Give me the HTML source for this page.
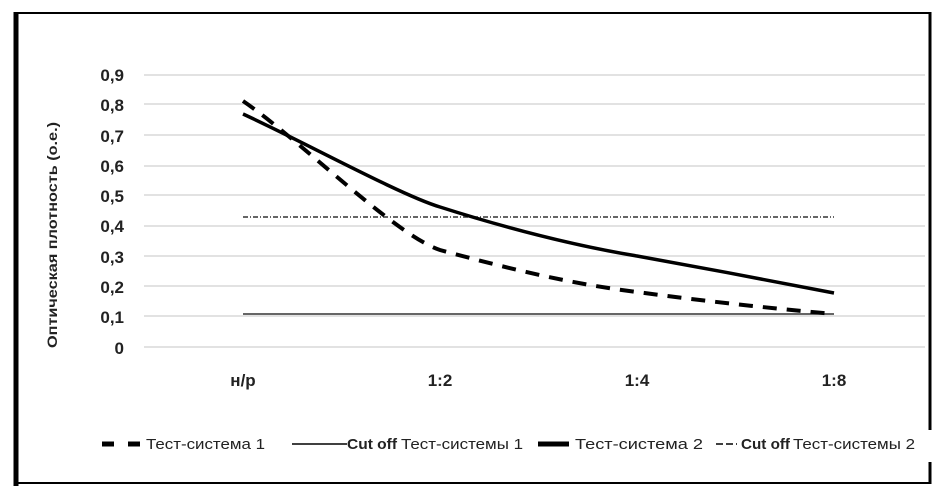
<!DOCTYPE html>
<html><head><meta charset="utf-8"><style>
body{margin:0;background:#fff;}
svg{display:block;font-family:"Liberation Sans","DejaVu Sans",sans-serif;}
</style></head><body>
<svg width="942" height="489" viewBox="0 0 942 489" xmlns="http://www.w3.org/2000/svg">
<rect width="942" height="489" fill="#fff"/>
<line x1="16" y1="12" x2="16" y2="486" stroke="#000" stroke-width="5"/>
<line x1="14" y1="13" x2="930" y2="13" stroke="#000" stroke-width="2"/>
<line x1="930" y1="12" x2="930" y2="430" stroke="#000" stroke-width="3"/>
<line x1="930" y1="462" x2="930" y2="484" stroke="#000" stroke-width="3"/>
<line x1="14" y1="483" x2="931" y2="483" stroke="#000" stroke-width="2"/>
<g stroke="#d9d9d9" stroke-width="1.5">
<line x1="144" y1="75" x2="925" y2="75"/>
<line x1="144" y1="104" x2="925" y2="104"/>
<line x1="144" y1="135" x2="925" y2="135"/>
<line x1="144" y1="166" x2="925" y2="166"/>
<line x1="144" y1="195" x2="925" y2="195"/>
<line x1="144" y1="226" x2="925" y2="226"/>
<line x1="144" y1="256" x2="925" y2="256"/>
<line x1="144" y1="286" x2="925" y2="286"/>
<line x1="144" y1="316" x2="925" y2="316"/>
<line x1="144" y1="347" x2="925" y2="347"/>
</g>
<g font-size="17" font-weight="bold" fill="#222" text-anchor="end">
<text x="124" y="81">0,9</text>
<text x="124" y="111">0,8</text>
<text x="124" y="142">0,7</text>
<text x="124" y="172">0,6</text>
<text x="124" y="202">0,5</text>
<text x="124" y="232">0,4</text>
<text x="124" y="263">0,3</text>
<text x="124" y="293">0,2</text>
<text x="124" y="323">0,1</text>
<text x="124" y="354">0</text>
</g>
<text transform="translate(57,235) rotate(-90)" font-size="14" font-weight="bold" fill="#222" text-anchor="middle" textLength="226" lengthAdjust="spacingAndGlyphs">Оптическая плотность (о.е.)</text>
<g font-size="17" font-weight="bold" fill="#222" text-anchor="middle">
<text x="243" y="386">н/р</text>
<text x="440" y="386">1:2</text>
<text x="637" y="386">1:4</text>
<text x="834" y="386">1:8</text>
</g>
<line x1="243" y1="217" x2="834" y2="217" stroke="#333" stroke-width="1.5" stroke-dasharray="5,2,1,2"/>
<line x1="243" y1="314" x2="834" y2="314" stroke="#333" stroke-width="1.5"/>
<path d="M243,114 C300,140 400,195 440,207 C506,228 571,245 637,256 C703,268 768,280 834,293" fill="none" stroke="#000" stroke-width="3.5"/>
<path d="M243,101 C300,140 395,235 440,250 C506,268 571,284 637,292 C703,301 768,308 834,314" fill="none" stroke="#000" stroke-width="4" stroke-dasharray="14,10"/>
<g font-size="15" fill="#222">
<line x1="102" y1="444" x2="143" y2="444" stroke="#000" stroke-width="5" stroke-dasharray="12,14"/>
<text x="146" y="449" textLength="119" lengthAdjust="spacingAndGlyphs">Тест-система 1</text>
<line x1="292" y1="444" x2="347" y2="444" stroke="#000" stroke-width="1.5"/>
<text x="347" y="449" font-weight="bold" textLength="50" lengthAdjust="spacingAndGlyphs">Cut off</text>
<text x="401" y="449" textLength="122" lengthAdjust="spacingAndGlyphs">Тест-системы 1</text>
<line x1="538" y1="444" x2="569" y2="444" stroke="#000" stroke-width="5"/>
<text x="575" y="449" textLength="128" lengthAdjust="spacingAndGlyphs">Тест-система 2</text>
<line x1="716" y1="444" x2="737" y2="444" stroke="#000" stroke-width="1.5" stroke-dasharray="7,3"/>
<text x="741" y="449" font-weight="bold" textLength="49" lengthAdjust="spacingAndGlyphs">Cut off</text>
<text x="793" y="449" textLength="122" lengthAdjust="spacingAndGlyphs">Тест-системы 2</text>
</g>
</svg>
</body></html>
